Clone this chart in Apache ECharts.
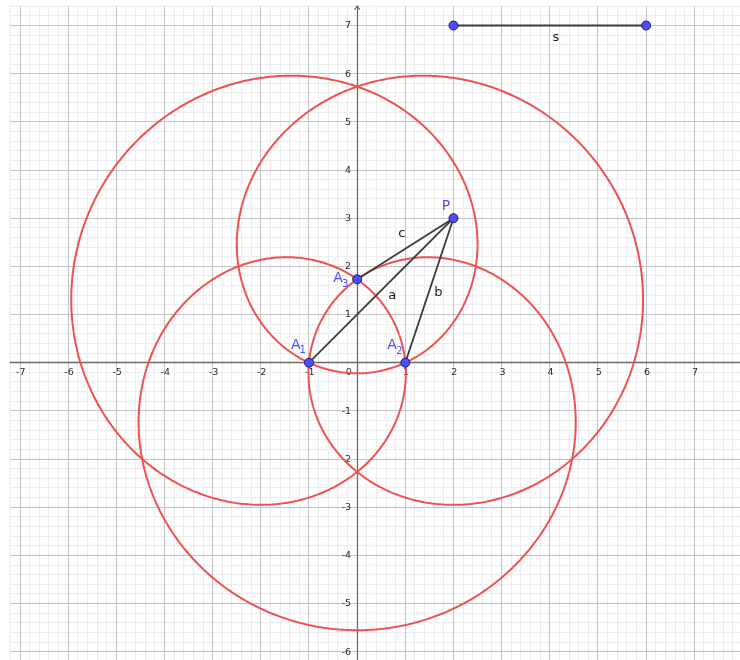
<!DOCTYPE html>
<html>
<head>
<meta charset="utf-8">
<title>Loci ±a±b±c = s</title>
<script src="https://cdn.jsdelivr.net/npm/echarts@6.0.0/dist/echarts.min.js"></script>
<style>
html, body { margin: 0; padding: 0; background: #ffffff; }
#chart { width: 740px; height: 660px; }
</style>
</head>
<body>
<div id="chart"></div>
<script>
// ---------------- values ----------------
const pointNames  = ['A1', 'A2', 'A3', 'P'];
const pointX      = [-1, 1, 0, 2];
const pointY      = [0, 0, 1.732, 3];
const segSX       = [2, 6];            // segment s: endpoints
const segSY       = [7, 7];
const segNames    = ['a', 'b', 'c'];   // P–A1, P–A2, P–A3
const xTickLabels = [-7, -6, -5, -4, -3, -2, -1, 1, 2, 3, 4, 5, 6, 7];
const yTickLabels = [-6, -5, -4, -3, -2, -1, 1, 2, 3, 4, 5, 6, 7];
// red loci:  σ1·a + σ2·b + σ3·c = s
const locusSigns  = [[1, 1, 1], [-1, 1, 1], [1, -1, 1], [1, 1, -1]];

// ---------------- view & style ----------------
const X_MIN = -7.2, X_MAX = 7.95, Y_MIN = -6.2, Y_MAX = 7.4;
const UX = 48.16, UY = 48.17, OX = 357.15, OY = 362.7;
const C = {
  minor: '#ececec', major: '#c4c4c4', axis: '#6a6a6a', red: '#f05050',
  seg: '#3c3c3c', pt: '#4d4dff', ptBorder: '#1e1e66', tick: '#2b2b2b', text: '#1a1a1a'
};
const FONT = '"DejaVu Sans", sans-serif';
const TICK_FONT = 9.5;
const labelOffsets = {
  A1: { main: [-13.3, -17], sub: [-6.3, -12] },
  A2: { main: [-13.3, -17], sub: [-5.8, -11.7] },
  A3: { main: [-19.2, -0.6], sub: [-11.9, 5] },
  P:  { main: [-7.5, -11.9] },
  a: [11.1, 4.9], b: [8.9, 1.9], c: [-3.6, -14.7], s: [6, 12.2],
  xTick: [0.8, 10], yTick: [-6, 0.4], zero: [-8.3, 10]
};

// ---------------- derived geometry ----------------
const sLen = Math.hypot(segSX[1] - segSX[0], segSY[1] - segSY[0]);
const verts = [0, 1, 2].map(i => [pointX[i], pointY[i]]);
const G = [(verts[0][0] + verts[1][0] + verts[2][0]) / 3, (verts[0][1] + verts[1][1] + verts[2][1]) / 3];
function F(sg, x, y) {
  let t = -sLen;
  for (let i = 0; i < 3; i++) t += sg[i] * Math.hypot(x - verts[i][0], y - verts[i][1]);
  return t;
}
function traceLocus(sg) {
  const N = 1440, dr = 0.01, pts = [];
  for (let k = 0; k <= N; k++) {
    const th = 2 * Math.PI * k / N, ux = Math.cos(th), uy = Math.sin(th);
    let r0 = 0, r1 = dr;
    while (r1 < 14 && F(sg, G[0] + r1 * ux, G[1] + r1 * uy) < 0) { r0 = r1; r1 += dr; }
    for (let it = 0; it < 40; it++) {
      const m = (r0 + r1) / 2;
      if (F(sg, G[0] + m * ux, G[1] + m * uy) < 0) r0 = m; else r1 = m;
    }
    const r = (r0 + r1) / 2;
    pts.push([G[0] + r * ux, G[1] + r * uy]);
  }
  return pts;
}

// grid lines every 0.2, major every 1
const gridItems = [];
for (let i = Math.ceil(X_MIN * 5 - 1e-9); i <= Math.floor(X_MAX * 5 + 1e-9); i++) gridItems.push([i / 5, 0, i % 5 === 0 ? 1 : 0]);
for (let i = Math.ceil(Y_MIN * 5 - 1e-9); i <= Math.floor(Y_MAX * 5 + 1e-9); i++) gridItems.push([i / 5, 1, i % 5 === 0 ? 1 : 0]);
gridItems.sort((p, q) => p[2] - q[2]);

function txt(x, y, text, size, color, align) {
  const a = align || 'center';
  return {
    type: 'text', x: x, y: y, silent: true,
    style: { text: text, fill: color, font: size + 'px ' + FONT, align: a, verticalAlign: 'middle', textAlign: a, textVerticalAlign: 'middle' }
  };
}

const series = [];
// grid
series.push({
  type: 'custom', z: -1, silent: true, animation: false,
  data: gridItems,
  renderItem: (params, api) => {
    const cs = params.coordSys;
    const v = api.value(0), o = api.value(1), major = api.value(2);
    const style = { stroke: major ? C.major : C.minor, lineWidth: 1 };
    if (o === 0) {
      const x = Math.round(api.coord([v, 0])[0] - 0.5) + 0.5;
      return { type: 'line', z2: major, shape: { x1: x, y1: cs.y, x2: x, y2: cs.y + cs.height }, style: style };
    }
    const y = Math.round(api.coord([0, v])[1] - 0.5) + 0.5;
    return { type: 'line', z2: major, shape: { x1: cs.x, y1: y, x2: cs.x + cs.width, y2: y }, style: style };
  }
});
// tick labels along the axes
const tickItems = xTickLabels.map(v => [v, 0, 0]).concat(yTickLabels.map(v => [0, v, 1])).concat([[0, 0, 2]]);
series.push({
  type: 'custom', z: 1, silent: true, animation: false,
  data: tickItems,
  renderItem: (params, api) => {
    const x = api.value(0), y = api.value(1), kind = api.value(2);
    const p = api.coord([x, y]);
    if (kind === 0) return txt(p[0] + labelOffsets.xTick[0], p[1] + labelOffsets.xTick[1], String(x), TICK_FONT, C.tick);
    if (kind === 1) return txt(p[0] + labelOffsets.yTick[0], p[1] + labelOffsets.yTick[1], String(y), TICK_FONT, C.tick, 'right');
    return txt(p[0] + labelOffsets.zero[0], p[1] + labelOffsets.zero[1], '0', TICK_FONT, C.tick);
  }
});
// loci
locusSigns.forEach((sg, i) => {
  series.push({
    type: 'line', name: 'locus' + i, data: traceLocus(sg), z: 2,
    showSymbol: false, symbol: 'none', smooth: false, silent: true, animation: false,
    lineStyle: { color: C.red, width: 2 }
  });
});
// segments a, b, c
segNames.forEach((n, i) => {
  series.push({
    type: 'line', name: n, z: 3, symbol: 'none', silent: true, animation: false,
    data: [[pointX[3], pointY[3]], [pointX[i], pointY[i]]],
    lineStyle: { color: C.seg, width: 1.8 }
  });
});
// segment s
series.push({
  type: 'line', name: 's', z: 3, symbol: 'none', silent: true, animation: false,
  data: [[segSX[0], segSY[0]], [segSX[1], segSY[1]]],
  lineStyle: { color: C.seg, width: 1.8 }
});
// points
series.push({
  type: 'scatter', z: 4, silent: true, animation: false,
  symbol: 'circle', symbolSize: 9,
  itemStyle: { color: C.pt, borderColor: C.ptBorder, borderWidth: 1, opacity: 1 },
  data: pointX.map((x, i) => [x, pointY[i]]).concat([[segSX[0], segSY[0]], [segSX[1], segSY[1]]])
});
// point labels
series.push({
  type: 'custom', z: 5, silent: true, animation: false,
  data: pointX.map((x, i) => [x, pointY[i]]),
  renderItem: (params, api) => {
    const name = pointNames[params.dataIndex];
    const p = api.coord([api.value(0), api.value(1)]);
    const off = labelOffsets[name];
    const kids = [txt(p[0] + off.main[0], p[1] + off.main[1], name[0], 14, C.pt)];
    if (name.length > 1) kids.push(txt(p[0] + off.sub[0], p[1] + off.sub[1], name.slice(1), 10, C.pt));
    return { type: 'group', children: kids };
  }
});
// segment labels (at segment midpoints)
const segLabelNames = segNames.concat(['s']);
const segMidX = [0, 1, 2].map(i => (pointX[3] + pointX[i]) / 2).concat([(segSX[0] + segSX[1]) / 2]);
const segMidY = [0, 1, 2].map(i => (pointY[3] + pointY[i]) / 2).concat([(segSY[0] + segSY[1]) / 2]);
series.push({
  type: 'custom', z: 5, silent: true, animation: false,
  data: segMidX.map((x, i) => [x, segMidY[i]]),
  renderItem: (params, api) => {
    const n = segLabelNames[params.dataIndex], off = labelOffsets[n];
    const p = api.coord([api.value(0), api.value(1)]);
    return txt(p[0] + off[0], p[1] + off[1], n, 13, C.text);
  }
});

const chart = echarts.init(document.getElementById('chart'), null, { renderer: 'canvas' });
chart.setOption({
  backgroundColor: '#ffffff',
  animation: false,
  tooltip: { show: false },
  grid: {
    left: OX + X_MIN * UX, top: OY - Y_MAX * UY,
    width: (X_MAX - X_MIN) * UX, height: (Y_MAX - Y_MIN) * UY,
    containLabel: false, outerBoundsMode: 'none'
  },
  xAxis: {
    type: 'value', min: X_MIN, max: X_MAX, interval: 0.2, z: 1,
    axisLine: { show: true, onZero: true, lineStyle: { color: C.axis, width: 1.3 } },
    axisTick: { show: false }, splitLine: { show: false }, axisLabel: { show: false }
  },
  yAxis: {
    type: 'value', min: Y_MIN, max: Y_MAX, interval: 0.2, z: 1,
    axisLine: {
      show: true, onZero: true, lineStyle: { color: C.axis, width: 1.3 },
      symbol: ['none', 'path://M0,4 L3,0 L6,4 L5.1,4.7 L3,1.7 L0.9,4.7 Z'],
      symbolSize: [7, 5], symbolOffset: [0, -1.3]
    },
    axisTick: { show: false }, splitLine: { show: false }, axisLabel: { show: false }
  },
  series: series
});
</script>
</body>
</html>
